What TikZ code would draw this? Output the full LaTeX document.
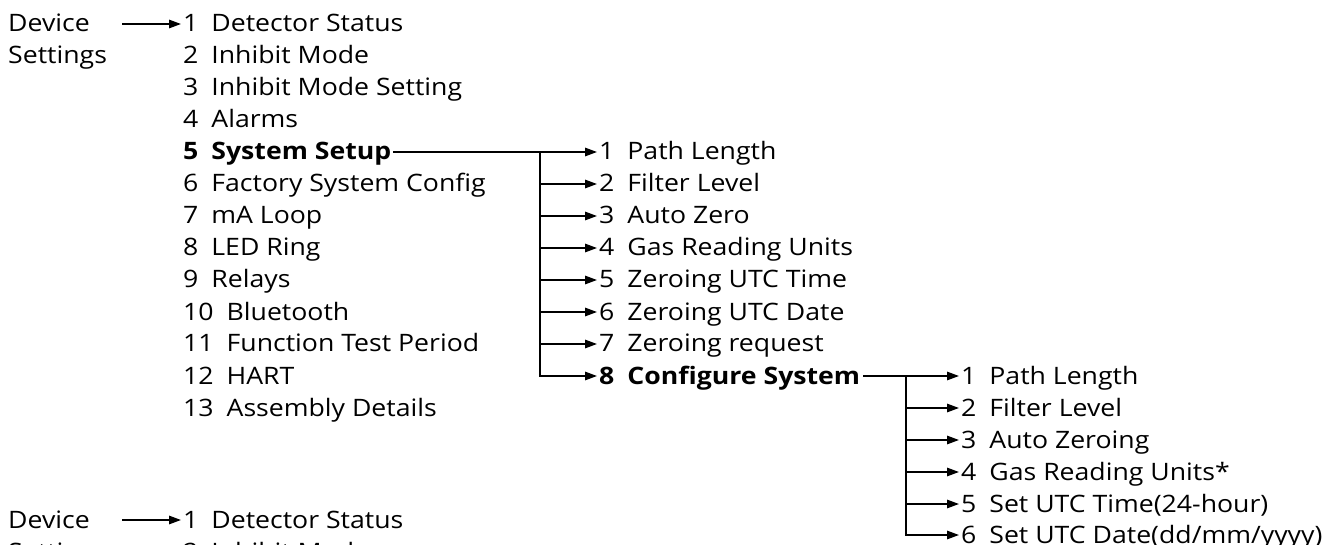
\documentclass[tikz,border=0pt]{standalone}
\usepackage{fontspec}
\setmainfont{Open Sans}[FakeStretch=1.11]
\usetikzlibrary{arrows.meta,calc}
\newcommand{\itm}[2]{#1\hspace{13pt}#2}
\begin{document}
\begin{tikzpicture}[x=1pt,y=-1pt,
  lbl/.style={anchor=base west,inner sep=0pt,font=\fontsize{24}{28}\selectfont},
  blbl/.style={lbl,font=\fontsize{24}{28}\selectfont\bfseries},
  conn/.style={line width=1.4pt},
  arr/.style={conn,-{Triangle[length=12pt,width=8.5pt]}}]
\useasboundingbox (0,0) rectangle (1336,545);
\clip (0,0) rectangle (1336,545);
% column 1
\node[lbl] (dev) at (8,32) {Device};
\node[lbl] (devs) at (8,64) {Settings};
\node[lbl] (a1) at (183,32) {\itm{1}{Detector Status}};
\node[lbl] (a2) at (183,64) {\itm{2}{Inhibit Mode}};
\node[lbl] (a3) at (183,96) {\itm{3}{Inhibit Mode Setting}};
\node[lbl] (a4) at (183,128) {\itm{4}{Alarms}};
\node[blbl] (a5) at (183,160) {\itm{5}{System Setup}};
\node[lbl] (a6) at (183,192) {\itm{6}{Factory System Config}};
\node[lbl] (a7) at (183,224) {\itm{7}{mA Loop}};
\node[lbl] (a8) at (183,256) {\itm{8}{LED Ring}};
\node[lbl] (a9) at (183,288) {\itm{9}{Relays}};
\node[lbl] (a10) at (183,320) {\itm{10}{Bluetooth}};
\node[lbl] (a11) at (183,352) {\itm{11}{Function Test Period}};
\node[lbl] (a12) at (183,384) {\itm{12}{HART}};
\node[lbl] (a13) at (183,416) {\itm{13}{Assembly Details}};
\draw[arr] ($(dev.base west)+(114,-8)$) -- ($(a1.base west)+(-2,-8)$);
% column 2
\node[lbl] (b1) at (599,160) {\itm{1}{Path Length}};
\node[lbl] (b2) at (599,192) {\itm{2}{Filter Level}};
\node[lbl] (b3) at (599,224) {\itm{3}{Auto Zero}};
\node[lbl] (b4) at (599,256) {\itm{4}{Gas Reading Units}};
\node[lbl] (b5) at (599,288) {\itm{5}{Zeroing UTC Time}};
\node[lbl] (b6) at (599,320) {\itm{6}{Zeroing UTC Date}};
\node[lbl] (b7) at (599,352) {\itm{7}{Zeroing request}};
\node[blbl] (b8) at (599,384) {\itm{8}{Configure System}};
\draw[arr] ($(a5.base east)+(2,-8)$) -- ($(b1.base west)+(-2,-8)$);
\foreach \i in {2,...,8}{
  \draw[arr] ($(b1.base west)+(-59,-8)$) |- ($(b\i.base west)+(-2,-8)$);
}
% column 3
\node[lbl] (c1) at (961,384) {\itm{1}{Path Length}};
\node[lbl] (c2) at (961,416) {\itm{2}{Filter Level}};
\node[lbl] (c3) at (961,448) {\itm{3}{Auto Zeroing}};
\node[lbl] (c4) at (961,480) {\itm{4}{Gas Reading Units*}};
\node[lbl] (c5) at (961,512) {\itm{5}{Set UTC Time(24-hour)}};
\node[lbl] (c6) at (961,543) {\itm{6}{Set UTC Date(dd/mm/yyyy)}};
\draw[arr] ($(b8.base east)+(3,-8)$) -- ($(c1.base west)+(-2,-8)$);
\foreach \i in {2,...,6}{
  \draw[arr] ($(c1.base west)+(-55,-8)$) |- ($(c\i.base west)+(-2,-8)$);
}
% repeated block at bottom (cut off)
\node[lbl] (rdev) at (8,528) {Device};
\node[lbl] (rdevs) at (8,560) {Settings};
\node[lbl] (r1) at (183,528) {\itm{1}{Detector Status}};
\node[lbl] (r2) at (183,560) {\itm{2}{Inhibit Mode}};
\draw[arr] ($(rdev.base west)+(114,-8)$) -- ($(r1.base west)+(-2,-8)$);
\end{tikzpicture}
\end{document}
